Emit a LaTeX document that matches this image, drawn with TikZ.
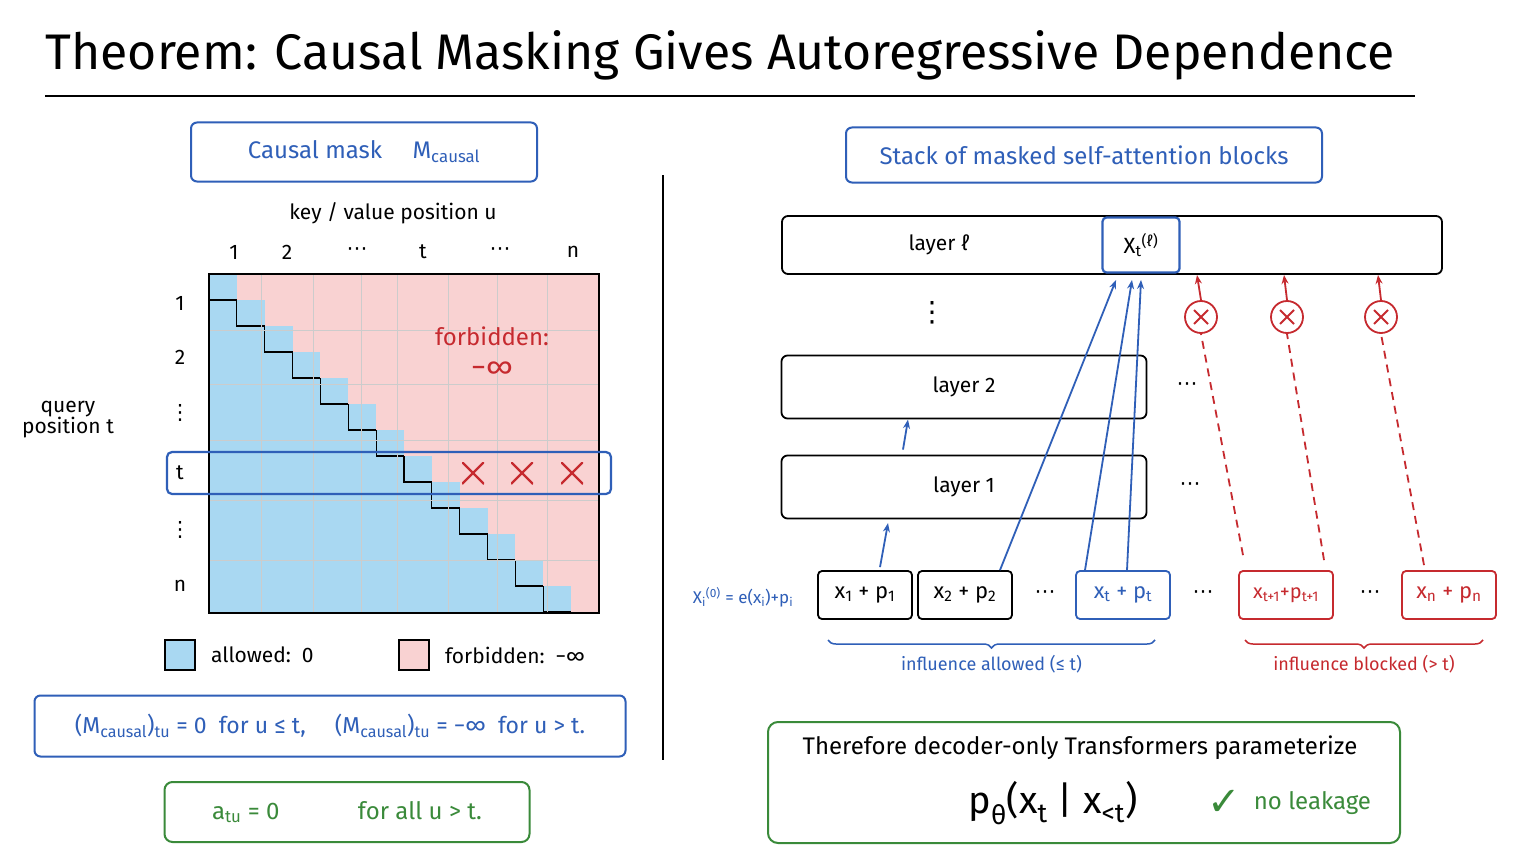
\documentclass[tikz,border=0pt]{standalone}
\usepackage{fontspec}
\setmainfont{Fira Sans}
\newfontfamily\symfont{DejaVu Sans}
\usetikzlibrary{arrows.meta, positioning, decorations.pathreplacing}
\definecolor{myblue}{HTML}{2F5FB8}
\definecolor{myred}{HTML}{C62A2F}
\definecolor{mygreen}{HTML}{3A8A3A}
\definecolor{allowc}{HTML}{A9D8F2}
\definecolor{forbidc}{HTML}{F9D2D2}
\newcommand\fsz[1]{\fontsize{#1}{#1}\selectfont}
\newcommand\vdts{{\symfont ⋮}}
\newcommand\hdts{{\symfont ⋯}}
\newcommand\lo[1]{\textsubscript{#1}}
\newcommand\hi[1]{\textsuperscript{#1}}
\tikzset{
    bluebox/.style={draw=myblue, line width=2pt, rounded corners=6pt, text=myblue},
    greenbox/.style={draw=mygreen, line width=2pt, rounded corners=8pt},
    layer/.style={draw, line width=1.8pt, rounded corners=6pt, font=\fsz{21}},
    tok/.style={draw, line width=1.8pt, rounded corners=4pt, minimum width=94pt, minimum height=48pt, font=\fsz{22}},
    xmark/.style={circle, draw=myred, line width=1.8pt, minimum size=32pt, path picture={
        \draw[myred, line width=1.8pt] (path picture bounding box.south west) ++(9pt,9pt) -- ++(14pt,14pt)
        (path picture bounding box.north west) ++(9pt,-9pt) -- ++(14pt,-14pt);}},
    cross/.style={minimum size=22pt, path picture={
        \draw[myred, line width=2.4pt] (path picture bounding box.south west) -- (path picture bounding box.north east)
        (path picture bounding box.north west) -- (path picture bounding box.south east);}},
    lbl/.style={font=\fsz{21}},
    conn/.style={->, line width=1.8pt, >={Stealth[length=9pt, width=7pt]}}
}

\begin{document}
\begin{tikzpicture}[x=1pt, y=-1pt, >=Stealth]
        \useasboundingbox[fill=white] (0,0) rectangle (1536,864);

        % Titulo
        \node[anchor=west, font=\fsz{50}] (title) at (42,55) {Theorem: Causal Masking Gives Autoregressive Dependence};
        \draw[line width=2.5pt] (45,96) -- (1415,96);

        % Mascara causal
        \node[bluebox, minimum width=346pt, minimum height=59pt, font=\fsz{24}] (maskbox) at (364,152) {Causal mask \quad M\lo{causal}};
        \node[lbl] (keylbl) at (393,213) {key / value position u};
        \node[lbl, align=center] (querylbl) at (68,420) {query\\position t};

        \fill[forbidc] (209,274) rectangle (599,613);
        \begin{scope}
        \clip (209,274) rectangle (599,613);
        \foreach \k in {0,...,13} {
            \fill[allowc] ({209+27.86*\k},{274+26*\k}) rectangle ({209+27.86*(\k+1)},613);
            \draw[line width=1.2pt] ({209+27.86*\k},{274+26*\k}) -- ({209+27.86*\k},{274+26*(\k+1)}) -- ({209+27.86*(\k+1)},{274+26*(\k+1)});
        }
        \end{scope}
        \foreach \x in {261,313,361,397,448,497,547}
            \draw[black!20] (\x,274) -- (\x,613);
        \foreach \y in {330,384,440,500,560}
            \draw[black!20] (209,\y) -- (599,\y);
        \draw[line width=1.5pt] (209,274) rectangle (599,613);
        \node[font=\fsz{24}, text=myred, align=center] (forbid) at (492,352) {forbidden:\\[8pt]{\fsz{30}−∞}};

        \foreach \x/\t in {234/1, 287/2, 357/\hdts, 423/t, 500/\hdts, 573/n}
            \node[lbl] at (\x,252) {\t};
        \foreach \y/\t in {303/1, 357/2, 413/\vdts, 473/t, 530/\vdts, 586/n}
            \node[lbl] at (180,\y) {\t};

        \draw[myblue, line width=2.2pt, rounded corners=5pt] (167,452) rectangle (611,494);
        \foreach \x in {473,522,572}
            \node[cross] at (\x,473) {};

        % Leyenda
        \node[draw, line width=1.2pt, fill=allowc, minimum size=30pt] (allowsq) at (180,655) {};
        \node[lbl, right=12pt of allowsq] (allowlbl) {allowed:\, 0};
        \node[draw, line width=1.2pt, fill=forbidc, minimum size=30pt] (forbidsq) at (414,655) {};
        \node[lbl, right=12pt of forbidsq] (forbidlbl) {forbidden:\, −∞};

        \node[bluebox, minimum width=591pt, minimum height=61pt, font=\fsz{23}] (formula) at (330,726)
            {(M\lo{causal})\lo{tu} = 0 \ for u ≤ t, \quad (M\lo{causal})\lo{tu} = −∞ \ for u > t.};
        \node[greenbox, minimum width=365pt, minimum height=60pt, font=\fsz{24}, text=mygreen] (zero) at (347,812)
            {a\lo{tu} = 0 \qquad\quad for all u > t.};

        % Separador
        \draw[line width=2pt] (663,175) -- (663,760);

        % Pila de capas
        \node[bluebox, minimum width=476pt, minimum height=55pt, font=\fsz{24}] (stack) at (1084,155) {Stack of masked self-attention blocks};
        \draw[line width=1.8pt, rounded corners=6pt] (782,216) rectangle (1442,274);
        \node[lbl] (layerL) at (939,245) {layer ℓ};
        \node[draw=myblue, line width=2.2pt, rounded corners=4pt, minimum width=77pt, minimum height=55pt, font=\fsz{22}] (xtl) at (1141,245) {X\lo{t}\hi{(ℓ)}};
        \node[font=\fsz{28}] (vdots) at (932,313) {\vdts};
        \node[layer, minimum width=365pt, minimum height=63pt] (layer2) at (964,387) {layer 2};
        \node[layer, minimum width=365pt, minimum height=63pt] (layer1) at (964,487) {layer 1};
        \node[lbl] at (1187,387) {\hdts};
        \node[lbl] at (1190,487) {\hdts};

        % Fila de tokens
        \node[text=myblue, font=\fsz{17}] (embed) at (743,597) {X\lo{i}\hi{(0)} = e(x\lo{i})+p\lo{i}};
        \node[tok] (tok1) at (865,595) {x\lo{1} + p\lo{1}};
        \node[tok] (tok2) at (965,595) {x\lo{2} + p\lo{2}};
        \node[tok, draw=myblue, text=myblue] (tokt) at (1123,595) {x\lo{t} + p\lo{t}};
        \node[tok, draw=myred, text=myred, font=\fsz{20}] (tokt1) at (1286,595) {x\lo{t+1}+p\lo{t+1}};
        \node[tok, draw=myred, text=myred] (tokn) at (1449,595) {x\lo{n} + p\lo{n}};
        \node[lbl] at (1045,595) {\hdts};
        \node[lbl] at (1203,595) {\hdts};
        \node[lbl] at (1370,595) {\hdts};

        % Conexiones
        \draw[conn, myblue] (tok1.north) ++(15,-3) -- ++(8,-44);
        \draw[conn, myblue] (layer1.north) ++(-61,-5) -- ++(5,-30);
        \draw[conn, myblue] (tok2.north) ++(35,0) -- (1116,280);
        \draw[conn, myblue] (tokt.north) ++(-38,0) -- (1132,280);
        \draw[conn, myblue] (tokt.north) ++(4,0) -- (1141,280);

        \node[xmark] (blk1) at (1201,317) {};
        \node[xmark] (blk2) at (1287,317) {};
        \node[xmark] (blk3) at (1381,317) {};
        \draw[myred, line width=1.8pt, dash pattern=on 8pt off 6pt] (tokt1.north) ++(-43,-15) -- (blk1.south);
        \draw[myred, line width=1.8pt, dash pattern=on 8pt off 6pt] (tokt1.north) ++(38,-10) -- (blk2.south);
        \draw[myred, line width=1.8pt, dash pattern=on 8pt off 6pt] (tokn.north) ++(-25,-5) -- (blk3.south);
        \draw[conn, myred] (blk1.north) -- (1197,275);
        \draw[conn, myred] (blk2.north) -- (1284,275);
        \draw[conn, myred] (blk3.north) -- (1378,275);

        % Llaves
        \draw[myblue, line width=1.5pt, decorate, decoration={brace, mirror, amplitude=8pt}] (828,640) -- (1155,640)
            node[midway, below=11pt, font=\fsz{18}] (allowbr) {influence allowed (≤ t)};
        \draw[myred, line width=1.5pt, decorate, decoration={brace, mirror, amplitude=8pt}] (1245,640) -- (1483,640)
            node[midway, below=11pt, font=\fsz{18}] (blockbr) {influence blocked (> t)};

        % Conclusion
        \draw[mygreen, line width=2pt, rounded corners=10pt] (768,722) rectangle (1400,843);
        \node[font=\fsz{24}] (therefore) at (1080,748) {Therefore decoder-only Transformers parameterize};
        \node[font=\fsz{38}] (pdist) at (1053,803) {p\lo{θ}(x\lo{t} | x\lo{<t})};
        \node[text=mygreen, font=\fsz{40}\symfont] (check) at (1224,803) {✓};
        \node[text=mygreen, font=\fsz{24}, right=6pt of check] (leak) {no leakage};
    \end{tikzpicture}
\end{document}
